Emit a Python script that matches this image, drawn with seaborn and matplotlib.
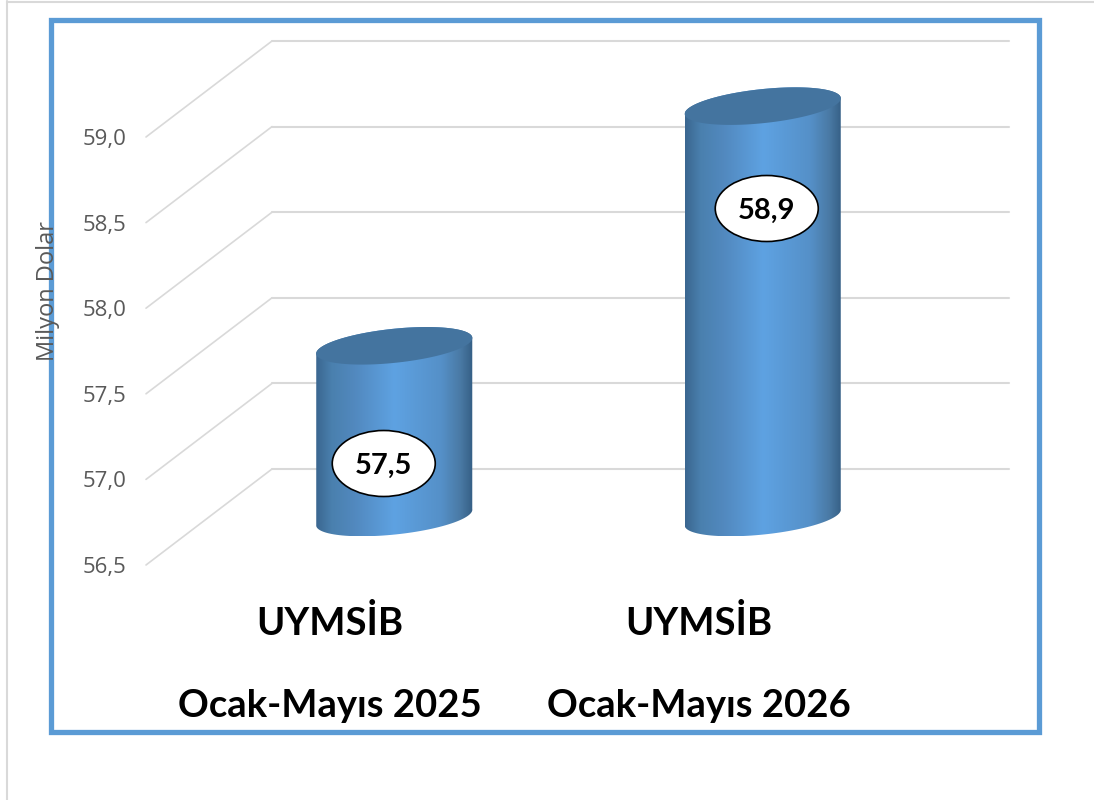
import numpy as np
import pandas as pd
import seaborn as sns
import matplotlib.pyplot as plt
from matplotlib.colors import LinearSegmentedColormap
from matplotlib.lines import Line2D
from matplotlib.patches import Ellipse, Polygon, Rectangle
from matplotlib.transforms import Affine2D, IdentityTransform

W, H = 1094, 800

categories = ["UYMSİB\n\nOcak-Mayıs 2025", "UYMSİB\n\nOcak-Mayıs 2026"]
values = [57.5, 58.9]
y_ticks = [56.5, 57.0, 57.5, 58.0, 58.5, 59.0]
y_tick_labels = ["56,5", "57,0", "57,5", "58,0", "58,5", "59,0"]
value_labels = ["57,5", "58,9"]

# depth of the fake 3d box, in pixels
DEPTH_X, DEPTH_Y = 126, 96
GRID = "#d9d9d9"
BLUE = "#5b9bd5"
px = IdentityTransform()


def screen(x, y):
    # picture pixels (origin top left) to display pixels
    return x, H - y


def ellipse_points(cx, cy, a, b, tilt, t):
    c, s = np.cos(np.radians(tilt)), np.sin(np.radians(tilt))
    ex, ey = a * np.cos(t), b * np.sin(t)
    return np.column_stack([cx + ex * c - ey * s, cy + ex * s + ey * c])


def draw_cylinder(ax, cx, y_top, y_bot, a, b, tilt, cmap):
    t_left = np.arctan2(-b * np.sin(np.radians(tilt)), -a * np.cos(np.radians(tilt)))
    lower = ellipse_points(cx, y_bot, a, b, tilt, np.linspace(t_left, t_left + np.pi, 60))
    # upper half of the top ellipse, hidden under the lid patch
    upper = ellipse_points(cx, y_top, a, b, tilt, np.linspace(t_left + np.pi, t_left + 2 * np.pi, 60))
    verts = np.vstack([lower, upper])
    side = Polygon(verts, closed=True, transform=px, facecolor="none", edgecolor="none")
    ax.add_patch(side)
    side.set_clip_on(False)
    im = ax.imshow(np.linspace(0, 1, 256)[None, :], cmap=cmap, aspect="auto",
                   extent=(verts[:, 0].min(), verts[:, 0].max(), verts[:, 1].min(), verts[:, 1].max()),
                   transform=px, zorder=3, interpolation="bilinear")
    im.set_clip_path(side)
    im.set_clip_box(ax.figure.bbox)
    top = ellipse_points(cx, y_top, a, b, tilt, np.linspace(0, 2 * np.pi, 120))
    ax.add_patch(Polygon(top, closed=True, transform=px, facecolor="#44749f",
                         edgecolor="none", zorder=4, clip_on=False))


sns.set_theme(style="white")
plt.rcParams["font.family"] = ["Open Sans", "DejaVu Sans"]

df = pd.DataFrame({"grup": categories, "deger": values})

fig = plt.figure(figsize=(W / 100, H / 100), dpi=100, facecolor="white")
ax = fig.add_axes([146 / W, (H - 565) / H, 737 / W, 428 / H])
ax.patch.set_alpha(0)

sns.barplot(data=df, x="grup", y="deger", ax=ax, width=155 / 368.5, color=BLUE)
ax.set_ylim(56.5, 59.0)
ax.set_xlim(-0.5, 1.5)
ax.autoscale(False)

sns.despine(ax=ax, left=True, bottom=True)
ax.set_yticks(y_ticks)
ax.set_yticklabels(y_tick_labels, fontsize=16, color="#595959")
ax.tick_params(axis="y", length=0, pad=14)
ax.tick_params(axis="x", length=0, pad=29)
ax.set_xlabel("")
for lab in ax.get_xticklabels():
    lab.set_family(["Lato", "DejaVu Sans"])
    lab.set_fontweight("bold")
    lab.set_fontsize(27.5)
    lab.set_color("black")
    lab.set_linespacing(1.24)
ax.set_ylabel("Milyon Dolar", fontsize=17, color="#595959")
ax.yaxis.set_label_coords(-0.117, 0.64)

# outer thin border and blue frame
fig.add_artist(Line2D([7 / W, 7 / W], [0, 1 - 1 / H], color=GRID, lw=1.5, zorder=-2))
fig.add_artist(Line2D([7 / W, 1], [1 - 1.5 / H, 1 - 1.5 / H], color=GRID, lw=1.5, zorder=-2))
fig.add_artist(Rectangle(screen(51, 732), 988, 712, transform=px, fill=False,
                         edgecolor=BLUE, lw=3.8, zorder=-1))

# back wall and side wall gridlines
back = ax.get_yaxis_transform() + Affine2D().translate(DEPTH_X, DEPTH_Y)
for tick in y_ticks:
    ax.plot([0, 1], [tick, tick], transform=back, color=GRID, lw=1.5, zorder=1, clip_on=False)
    x0, y0 = ax.get_yaxis_transform().transform((0, tick))
    ax.plot([x0, x0 + DEPTH_X], [y0, y0 + DEPTH_Y], transform=px, color=GRID, lw=1.2,
            zorder=1, clip_on=False)

# replace seaborn's flat bars with cylinders on the same x and height
side_cmap = LinearSegmentedColormap.from_list(
    "cyl", [(0, "#3a6690"), (0.1, "#4a80ae"), (0.25, "#5289bf"), (0.5, "#5ea2e2"),
            (0.8, "#5590c8"), (0.92, "#4a7aa5"), (1, "#355f85")])
# picture position of the white label ovals, relative to the cylinder centre
label_dx = [-10.5, 4.0]
label_py = [463.5, 208.5]
bars = list(ax.patches)
for i, bar in enumerate(bars):
    bar.set_visible(False)
    xc = bar.get_x() + bar.get_width() / 2
    dx, dy = ax.transData.transform((xc, bar.get_height()))
    _, dy0 = ax.transData.transform((xc, 56.5))
    cx = dx + 64
    draw_cylinder(ax, cx, dy + DEPTH_Y / 2, dy0 + DEPTH_Y / 2 - 0.5, 78.5, 17, 6, side_cmap)

    lx, ly = cx + label_dx[i], H - label_py[i]
    ax.add_patch(Ellipse((lx, ly), 103, 66, transform=px, facecolor="white",
                         edgecolor="black", lw=1.2, zorder=5, clip_on=False))
    ax.text(lx, ly, value_labels[i], transform=px, ha="center", va="center_baseline",
            fontsize=21, fontweight="bold", family=["Lato", "DejaVu Sans"],
            color="black", zorder=6, clip_on=False)

fig.savefig("out.png", dpi=100)
